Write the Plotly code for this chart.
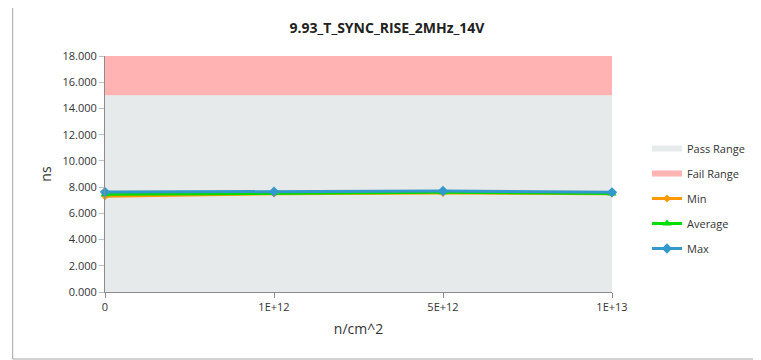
import plotly.graph_objects as go

categories = ["0", "1E+12", "5E+12", "1E+13"]
pass_range = [15, 15, 15, 15]
fail_range = [3, 3, 3, 3]
min_vals = [7.30, 7.50, 7.55, 7.50]
avg_vals = [7.45, 7.55, 7.60, 7.52]
max_vals = [7.62, 7.65, 7.70, 7.60]
y_ticks = [0, 2, 4, 6, 8, 10, 12, 14, 16, 18]
y_tick_labels = [f"{v:.3f}" for v in y_ticks]

OFF = 8  # page body margin
W, H = 761 - OFF, 360 - OFF
L, R, T, B = 105 - OFF, 761 - 613, 56 - OFF, 360 - 292
pw, ph = W - L - R, H - T - B

fig = go.Figure()
fig.add_trace(go.Scatter(x=categories, y=pass_range, name="Pass Range", mode="none",
                         fill="tozeroy", fillcolor="#E6EAEA", stackgroup="rng",
                         legendgroup="a"))
fig.add_trace(go.Scatter(x=categories, y=fail_range, name="Fail Range", mode="none",
                         fill="tonexty", fillcolor="#FFB3B3", stackgroup="rng",
                         legendgroup="b"))
fig.add_trace(go.Scatter(x=categories, y=min_vals, name="Min", mode="lines+markers",
                         line=dict(color="#FF9900", width=3),
                         marker=dict(symbol="diamond", size=6, color="#FF9900"),
                         cliponaxis=False, legendgroup="c"))
fig.add_trace(go.Scatter(x=categories, y=avg_vals, name="Average", mode="lines+markers",
                         line=dict(color="#00DD00", width=3),
                         marker=dict(symbol="triangle-up", size=8, color="#00DD00"),
                         cliponaxis=False, legendgroup="d"))
fig.add_trace(go.Scatter(x=categories, y=max_vals, name="Max", mode="lines+markers",
                         line=dict(color="#3399CC", width=3),
                         marker=dict(symbol="diamond", size=8, color="#3399CC"),
                         cliponaxis=False, legendgroup="e"))

# screen pixel -> paper coordinates
def px_x(p):
    return (p - OFF - L) / pw

def px_y(p):
    return (H + OFF - B - p) / ph

fig.update_layout(
    width=W, height=H,
    margin=dict(l=L, r=R, t=T, b=B),
    paper_bgcolor="white", plot_bgcolor="white",
    font=dict(family="Open Sans, Liberation Sans, sans-serif", size=11, color="#333333"),
    title=dict(text="<b>9.93_T_SYNC_RISE_2MHz_14V</b>", x=(387 - OFF) / W, xanchor="center",
               y=1 - (28 - OFF) / H, yanchor="middle", font=dict(size=14, color="#222222")),
    showlegend=True,
    legend=dict(x=px_x(647), y=px_y(134), xanchor="left", yanchor="top",
                font=dict(size=11, color="#333333"), tracegroupgap=6,
                bgcolor="rgba(0,0,0,0)", itemwidth=30),
    xaxis=dict(type="category", range=[0, 3], showgrid=False, showline=True,
               linecolor="#8C8C8C", linewidth=1, ticks="outside", ticklen=5,
               tickcolor="#8C8C8C", tickfont=dict(size=11, color="#333333"),
               title=dict(text="n/cm^2", font=dict(size=14, color="#333333"), standoff=10),
               zeroline=False),
    yaxis=dict(range=[0, 18], tickvals=y_ticks, ticktext=y_tick_labels, showgrid=False,
               showline=True, linecolor="#8C8C8C", linewidth=1, ticks="outside",
               ticklen=5, tickcolor="#C0C0C0", tickfont=dict(size=11, color="#333333"),
               title=dict(text="ns", font=dict(size=14, color="#333333"), standoff=7),
               zeroline=False),
    shapes=[dict(type="rect", xref="paper", yref="paper",
                 x0=px_x(12.5), x1=px_x(780), y0=px_y(359), y1=px_y(4.5),
                 line=dict(color="#A6A6A6", width=1), fillcolor="rgba(0,0,0,0)",
                 layer="below")],
)

fig.write_html("out.html")
